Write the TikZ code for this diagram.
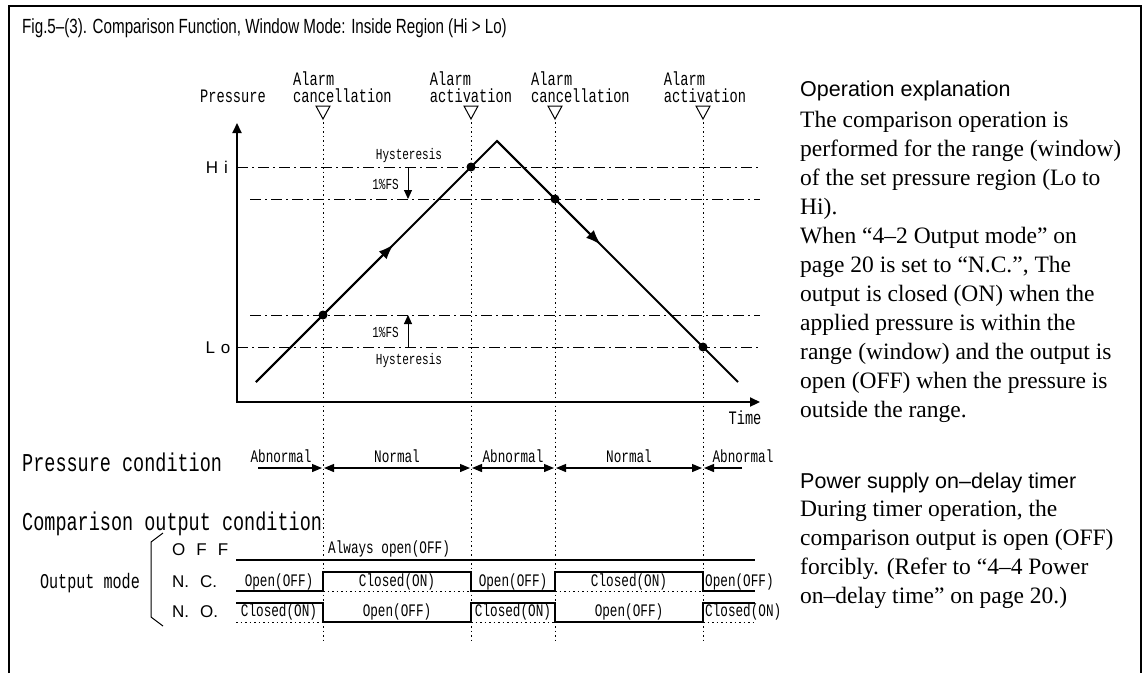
\documentclass[tikz,border=0pt]{standalone}
\usepackage{fontspec}
\setmainfont{Liberation Serif}
\newfontfamily\gothic[FakeStretch=0.72]{Liberation Mono}
\newfontfamily\pgothic{Liberation Sans}
\newfontfamily\titlesans[FakeStretch=0.74]{Liberation Sans}
\usetikzlibrary{arrows.meta, calc, positioning}

\begin{document}
\begin{tikzpicture}[x=1pt, y=-1pt,
  lbl/.style={inner sep=0pt, align=left, font=\gothic\fontsize{19}{17.5}\selectfont},
  small/.style={inner sep=0pt, font=\gothic\fontsize{17.6}{17}\selectfont},
  tiny/.style={inner sep=0pt, font=\gothic\fontsize{15.3}{15}\selectfont},
  big/.style={inner sep=0pt, anchor=west, font=\gothic\fontsize{25.7}{26}\selectfont},
  mode/.style={inner sep=0pt, anchor=west, font=\pgothic\fontsize{17}{17}\selectfont},
  axis/.style={line width=2.2pt, {Triangle[length=10pt,width=9pt]}-{Triangle[length=10pt,width=9pt]}},
  level/.style={line width=1pt, dash pattern=on 11pt off 4pt on 2pt off 4pt},
  guide/.style={line width=1pt, dash pattern=on 1.5pt off 3pt},
  curve/.style={line width=1.8pt},
  sig/.style={line width=2pt},
  under/.style={line width=1pt, dash pattern=on 1.5pt off 3pt},
  hys/.style={line width=1pt, -{Triangle[length=9pt,width=8pt]}},
  span/.style={line width=1.2pt, -{Triangle[length=10pt,width=8pt]}, shorten >=1pt},
  spanb/.style={line width=1.2pt, {Triangle[length=10pt,width=8pt]}-{Triangle[length=10pt,width=8pt]}, shorten >=1pt, shorten <=1pt},
  para/.style={inner sep=0pt, anchor=north west, align=left, font=\fontsize{23.5}{29}\selectfont},
  head/.style={inner sep=0pt, anchor=west, font=\pgothic\fontsize{21.5}{21}\selectfont}
]
\useasboundingbox (0,0) rectangle (1146,673);

% frame and title
\draw[line width=2pt] (9,673) -- (9,6) -- (1141,6) -- (1141,673);
\node[inner sep=0pt, anchor=west, font=\titlesans\fontsize{20.5}{20}\selectfont] (title) at (22,28)
  {Fig.5–(3). Comparison Function, Window Mode: Inside Region (Hi > Lo)};

% alarm columns
\foreach \x/\n in {323/a,471/b,555/c,703/d} {
  \coordinate (top\n) at (\x,122);
  \coordinate (bot\n) at (\x,640);
  \draw[guide] (top\n) -- (bot\n);
  \draw[line width=1pt] (\x-7,106) -- (\x+7,106) -- (\x,119) -- cycle;
}
\node[lbl, anchor=south] (plab) at (233,103) {Pressure};
\node[lbl, anchor=south west] (can1) at (293,103) {Alarm\\cancellation};
\node[lbl, anchor=south] (act1) at (471,103) {Alarm\\activation};
\node[lbl, anchor=south west] (can2) at (531,103) {Alarm\\cancellation};
\node[lbl, anchor=south] (act2) at (705,103) {Alarm\\activation};

% set levels
\draw[level] (237,167) -- (760,167);
\draw[level] (250,199) -- (760,199);
\draw[level] (250,315) -- (760,315);
\draw[level] (237,347) -- (760,347);
\node[mode, anchor=center] (hi) at (217,167) {H\hspace{6pt}i};
\node[mode, anchor=center] (lo) at (218,348) {L\hspace{6pt}o};

% axes
\coordinate (org) at (237,402);
\coordinate (ytip) at (237,123);
\coordinate (xtip) at (760,402);
\draw[axis] (ytip) -- (org) -- (xtip);
\node[lbl] (tlab) at (745,418) {Time};

% pressure curve
\coordinate (vs) at (256,382);
\coordinate (peak) at (497,141);
\coordinate (ve) at (738,382);
\draw[curve] (vs) -- (peak) -- (ve);
\draw[curve, -{Latex[length=15pt,width=11pt]}] (vs) -- ($(vs)!0.57!(peak)$);
\draw[curve, -{Latex[length=15pt,width=11pt]}] (peak) -- ($(peak)!0.43!(ve)$);
\foreach \p in {(471,167),(555,199),(323,315),(703,347)}
  \fill \p circle (4.5pt);

% hysteresis
\coordinate (hyA) at (408,167);
\coordinate (hyB) at (408,199);
\coordinate (hyC) at (408,347);
\coordinate (hyD) at (408,315);
\draw[hys] (hyA) -- (hyB);
\draw[hys] (hyC) -- (hyD);
\node[tiny] (hyt1) at (409,156) {Hysteresis};
\node[tiny, anchor=east] (fs1) at (399,184) {1\%FS};
\node[tiny, anchor=east] (fs2) at (399,332) {1\%FS};
\node[tiny] (hyt2) at (409,361) {Hysteresis};

% pressure condition
\node[big] (pcond) at (22,462) {Pressure condition};
\coordinate (s0) at (258,468);
\coordinate (s1) at (323,468);
\coordinate (s2) at (471,468);
\coordinate (s3) at (555,468);
\coordinate (s4) at (703,468);
\coordinate (s5) at (742,468);
\draw[span] (s0) -- (s1);
\draw[spanb] (s1) -- (s2);
\draw[spanb] (s2) -- (s3);
\draw[spanb] (s3) -- (s4);
\draw[span] (s5) -- (s4);
\node[small, anchor=south] (ab1) at (281,463) {Abnormal};
\node[small, anchor=south] (no1) at (397,463) {Normal};
\node[small, anchor=south] (ab2) at (513,463) {Abnormal};
\node[small, anchor=south] (no2) at (629,463) {Normal};
\node[small, anchor=south] (ab3) at (743,463) {Abnormal};

% comparison output condition
\node[big] (ccond) at (22,524) {Comparison output condition};
\node[inner sep=0pt, font=\gothic\fontsize{21}{21}\selectfont] (omode) at (90,583) {Output mode};
\draw[line width=1pt] (163,533) -- (151,542) -- (151,617) -- (163,626);
\node[mode] (moff) at (172,550) {O\hspace{11pt}F\hspace{11pt}F};
\node[mode] (mnc) at (172,582) {N.\hspace{11pt}C.};
\node[mode] (mno) at (172,612) {N.\hspace{11pt}O.};

% OFF
\draw[sig] (236,560) -- (755,560);
\node[small, anchor=west] (aoff) at (328,549) {Always open(OFF)};

% N.C.
\draw[sig] (236,591) -- (323,591) -- (323,572) -- (471,572) -- (471,591)
  -- (555,591) -- (555,572) -- (703,572) -- (703,591) -- (755,591);
\draw[under] (323,591) -- (471,591);
\draw[under] (555,591) -- (703,591);
\node[small] (nc1) at (279,582) {Open(OFF)};
\node[small] (nc2) at (397,582) {Closed(ON)};
\node[small] (nc3) at (513,582) {Open(OFF)};
\node[small] (nc4) at (629,582) {Closed(ON)};
\node[small, anchor=west] (nc5) at (705,582) {Open(OFF)};

% N.O.
\draw[sig] (236,603) -- (323,603) -- (323,622) -- (471,622) -- (471,603)
  -- (555,603) -- (555,622) -- (703,622) -- (703,603) -- (755,603);
\draw[under] (236,622) -- (323,622);
\draw[under] (471,622) -- (555,622);
\draw[under] (703,622) -- (755,622);
\node[small] (no1) at (279,612) {Closed(ON)};
\node[small] (no2) at (397,612) {Open(OFF)};
\node[small] (no3) at (513,612) {Closed(ON)};
\node[small] (no4) at (629,612) {Open(OFF)};
\node[small, anchor=west] (no5) at (705,612) {Closed(ON)};

% explanation
\node[head] (opx) at (800,91) {Operation explanation};
\node[para] (optxt) at (800,111) {The comparison operation is\\
  performed for the range (window)\\
  of the set pressure region (Lo to\\
  Hi).\\
  When “4–2 Output mode” on\\
  page 20 is set to “N.C.”, The\\
  output is closed (ON) when the\\
  applied pressure is within the\\
  range (window) and the output is\\
  open (OFF) when the pressure is\\
  outside the range.};
\node[head] (psx) at (800,483) {Power supply on–delay timer};
\node[para] (pstxt) at (800,500) {During timer operation, the\\
  comparison output is open (OFF)\\
  forcibly. (Refer to “4–4 Power\\
  on–delay time” on page 20.)};
\end{tikzpicture}
\end{document}
